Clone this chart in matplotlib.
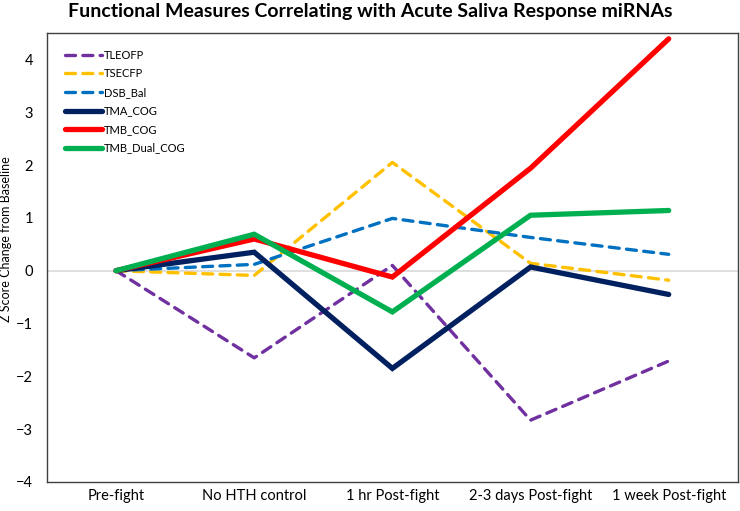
import numpy as np
import matplotlib.pyplot as plt

plt.rcParams['font.family'] = ['Lato', 'DejaVu Sans']

# categories and series values (Z score change from baseline)
categories = ['Pre-fight', 'No HTH control', '1 hr Post-fight',
              '2-3 days Post-fight', '1 week Post-fight']
tleofp = [0, -1.65, 0.10, -2.83, -1.71]
tsecfp = [0, -0.09, 2.05, 0.14, -0.18]
dsb_bal = [0, 0.12, 0.99, 0.63, 0.31]
tma_cog = [0, 0.35, -1.85, 0.07, -0.45]
tmb_cog = [0, 0.60, -0.12, 1.94, 4.39]
tmb_dual_cog = [0, 0.69, -0.78, 1.05, 1.14]

x = np.arange(len(categories))

fig = plt.figure(figsize=(7.4, 5.11), dpi=100)
ax = fig.add_axes([0.0635, 0.0568, 0.9335, 0.8786])

# dashed series
dash_kw = dict(linewidth=2.4, linestyle=(0, (3, 2.2)), dash_capstyle='round')
ax.plot(x, tleofp, color='#7030A0', label='TLEOFP', **dash_kw)
ax.plot(x, tsecfp, color='#FFC000', label='TSECFP', **dash_kw)
ax.plot(x, dsb_bal, color='#0070C0', label='DSB_Bal', **dash_kw)

# solid series
solid_kw = dict(linewidth=3.8, solid_capstyle='round', solid_joinstyle='miter')
ax.plot(x, tma_cog, color='#002060', label='TMA_COG', **solid_kw)
ax.plot(x, tmb_cog, color='#FF0000', label='TMB_COG', **solid_kw)
ax.plot(x, tmb_dual_cog, color='#00B050', label='TMB_Dual_COG', **solid_kw)

ax.axhline(0, color='#D9D9D9', linewidth=1.2, zorder=0)

ax.set_xlim(-0.5, len(categories) - 0.5)
ax.set_ylim(-4, 4.5)
ax.set_yticks(range(-4, 5))
ax.set_xticks(x)
ax.set_xticklabels(categories, fontsize=10.5)
ax.tick_params(axis='both', length=0, labelsize=10.5, colors='black')
ax.tick_params(axis='x', pad=5)
ax.tick_params(axis='y', pad=10)
for s in ax.spines.values():
    s.set_color('#404040')
    s.set_linewidth(1.0)

ax.set_ylabel('Z Score Change from Baseline', fontsize=9)
ax.yaxis.set_label_coords(-0.051, 0.54)
fig.suptitle('Functional Measures Correlating with Acute Saliva Response miRNAs',
             fontsize=14, fontweight='bold', y=0.995)

leg = ax.legend(loc='upper left', bbox_to_anchor=(0.012, 0.985), frameon=False,
                fontsize=8, handlelength=3.3, handletextpad=0.15,
                labelspacing=0.68)

fig.savefig('out.png', dpi=100)
